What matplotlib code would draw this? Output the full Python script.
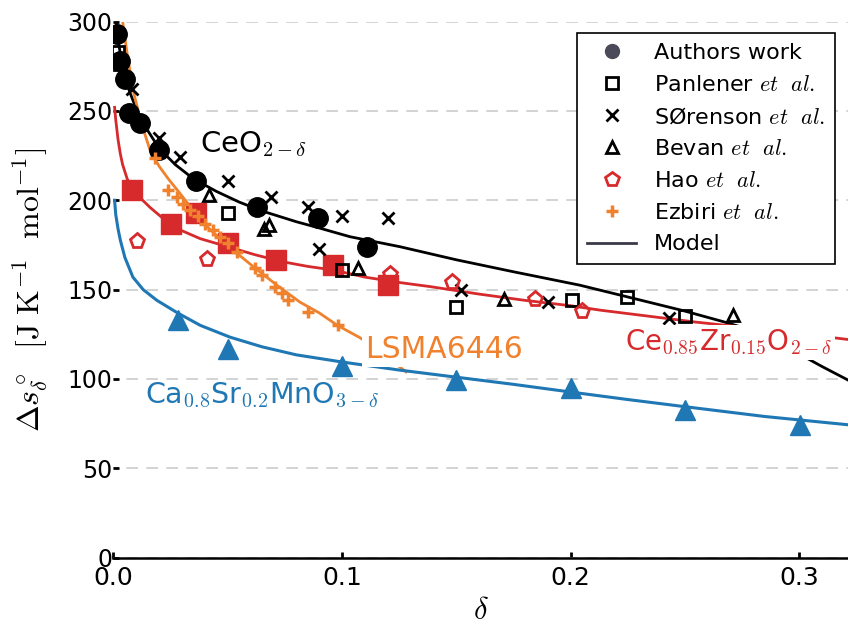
import numpy as np
import matplotlib.pyplot as plt
from matplotlib.lines import Line2D

plt.rcParams['mathtext.fontset'] = 'cm'
plt.rcParams['font.family'] = 'DejaVu Sans'

# Colours for the three doped oxides
RED = '#d62a2c'
BLUE = '#1f77b4'
ORANGE = '#f0822e'

# --- CeO2-delta: measured entropies ---
authors_d = [0.0015, 0.003, 0.005, 0.007, 0.0116, 0.020, 0.036, 0.063, 0.0895, 0.111]
authors_s = [293, 278, 268, 249, 243, 228, 211, 196, 190, 174]

panlener_d = [0.002, 0.003, 0.050, 0.100, 0.150, 0.2007, 0.2247, 0.250]
panlener_s = [283, 276, 193, 161, 140, 144, 146, 135]

sorenson_d = [0.008, 0.020, 0.029, 0.050, 0.069, 0.085, 0.090, 0.100, 0.120, 0.152, 0.190, 0.243]
sorenson_s = [262, 235, 224, 211, 202, 196, 173, 191, 190, 150, 143, 134]

bevan_d = [0.042, 0.066, 0.068, 0.107, 0.171, 0.271]
bevan_s = [203, 184, 186, 162, 145, 136]

# --- Ce0.85Zr0.15O2-delta ---
hao_d = [0.0103, 0.041, 0.121, 0.148, 0.1845, 0.205]
hao_s = [177, 167, 159, 154, 145, 138]

czo_d = [0.008, 0.025, 0.036, 0.050, 0.071, 0.096, 0.120]
czo_s = [206, 187, 193, 176, 166.5, 164, 152.5]

# --- LSMA6446 ---
ezbiri_d = [0.0182, 0.024, 0.0277, 0.0306, 0.0335, 0.0371, 0.040, 0.0437, 0.0466,
            0.0502, 0.054, 0.062, 0.0649, 0.0707, 0.0736, 0.0765, 0.0853, 0.0984]
ezbiri_s = [223.5, 206, 202, 198, 194.5, 191, 187, 183.5, 179.5,
            176, 171, 162, 158, 151.5, 148, 144, 137.5, 130]

# --- Ca0.8Sr0.2MnO3-delta ---
csm_d = [0.0284, 0.050, 0.100, 0.150, 0.200, 0.250, 0.3005]
csm_s = [133, 117, 107, 99.5, 95, 82.6, 74.3]

# --- Model curves ---
ceo2_model_d = [0.001, 0.0015, 0.002, 0.003, 0.004, 0.005, 0.007, 0.010, 0.014, 0.020,
                0.027, 0.035, 0.045, 0.055, 0.065, 0.080, 0.090, 0.1035, 0.1254, 0.150,
                0.175, 0.204, 0.2247, 0.250, 0.267, 0.280, 0.290, 0.300, 0.310, 0.322]
ceo2_model_s = [305, 296, 290, 282, 276, 270, 261, 251, 241, 229,
                220, 212, 205, 199, 194, 188, 184.5, 179.6, 174, 166.7,
                160, 152.5, 146, 138, 132, 127, 121, 114, 107, 99]

czo_model_d = [0.0005, 0.001, 0.002, 0.003, 0.004, 0.006, 0.008, 0.012, 0.016, 0.022,
               0.029, 0.038, 0.050, 0.062, 0.074, 0.085, 0.096, 0.110, 0.125, 0.1385,
               0.160, 0.180, 0.200, 0.213, 0.235, 0.255, 0.290, 0.322]
czo_model_s = [252, 245, 234, 226, 220, 212, 207, 201, 196, 189.5,
               183.5, 178.5, 174, 169.5, 165.6, 163, 161, 157, 154, 151.7,
               147.5, 144, 141, 138.5, 135, 131.8, 127, 122]

lsma_model_d = [0.004, 0.006, 0.0085, 0.012, 0.016, 0.020, 0.024, 0.029, 0.035, 0.042,
                0.052, 0.062, 0.072, 0.0816, 0.090, 0.098, 0.108, 0.118, 0.128]
lsma_model_s = [300, 282, 262, 244, 228, 219, 212, 204, 194, 184,
                172.5, 162, 152, 143, 137, 130, 123, 114, 104]

csm_model_d = [0.0005, 0.001, 0.002, 0.003, 0.005, 0.0085, 0.013, 0.019, 0.028, 0.038,
               0.051, 0.065, 0.080, 0.100, 0.125, 0.150, 0.175, 0.200, 0.225, 0.250,
               0.285, 0.322]
csm_model_s = [200, 192, 184, 177.7, 168, 157, 150, 144, 137, 130,
               123.4, 118, 113.5, 109.5, 105, 101, 97, 92.7, 88.5, 84.5,
               79, 74.3]

fig = plt.figure(figsize=(8.48, 6.29), dpi=100)
ax = fig.add_axes([0.1338, 0.1134, 0.8662, 0.8523])

# model lines
ax.plot(ceo2_model_d, ceo2_model_s, color='black', lw=2, zorder=2)
ax.plot(czo_model_d, czo_model_s, color=RED, lw=2, zorder=2)
ax.plot(lsma_model_d, lsma_model_s, color=ORANGE, lw=2, zorder=2)
ax.plot(csm_model_d, csm_model_s, color=BLUE, lw=2.2, zorder=2)

# measured points
ax.plot(authors_d, authors_s, 'o', color='black', ms=14, zorder=4)
ax.plot(czo_d, czo_s, 's', color=RED, ms=14, zorder=4)
ax.plot(csm_d, csm_s, '^', color=BLUE, ms=14, zorder=4)
ax.plot(panlener_d, panlener_s, 's', mfc='none', mec='black', ms=9, mew=2, zorder=5)
ax.plot(sorenson_d, sorenson_s, 'x', color='black', ms=9, mew=2, zorder=5)
ax.plot(bevan_d, bevan_s, '^', mfc='none', mec='black', ms=9, mew=2, zorder=5)
ax.plot(hao_d, hao_s, 'p', mfc='none', mec=RED, ms=11, mew=2, zorder=5)
ax.plot(ezbiri_d, ezbiri_s, '+', color=ORANGE, ms=8, mew=2.5, zorder=5)

# material labels
ax.text(0.0379, 227, r'CeO$_{2-\delta}$', fontsize=21, color='black', va='baseline', zorder=6)
ax.text(0.110, 111.8, 'LSMA6446', fontsize=21.5, color=ORANGE, va='baseline', zorder=6,
        bbox=dict(facecolor='white', edgecolor='none', pad=2))
ax.text(0.0138, 86.6, r'Ca$_{0.8}$Sr$_{0.2}$MnO$_{3-\delta}$', fontsize=20.5, color=BLUE,
        va='baseline', zorder=6)
ax.text(0.2238, 116.2, r'Ce$_{0.85}$Zr$_{0.15}$O$_{2-\delta}$', fontsize=20, color=RED,
        va='baseline', zorder=6, bbox=dict(facecolor='white', edgecolor='none', pad=2))

ax.set_xlim(0, 0.3214)
ax.set_ylim(0, 300)
ax.set_xticks([0.0, 0.1, 0.2, 0.3])
ax.set_yticks([0, 50, 100, 150, 200, 250, 300])
ax.yaxis.grid(True, color='#cccccc', lw=1.2, linestyle=(4, (7, 5)))
ax.set_axisbelow(True)
for side in ['top', 'right', 'left']:
    ax.spines[side].set_visible(False)
ax.spines['bottom'].set_linewidth(1.8)
ax.tick_params(direction='in', length=4, width=2, labelsize=17, colors='black')
ax.tick_params(axis='x', pad=6, labelsize=18)
ax.tick_params(axis='y', pad=1)

ax.set_xlabel(r'$\delta$', fontsize=22, labelpad=4)
ax.set_ylabel(r'$\Delta s^\circ_\delta\ \ [\mathrm{J\ K^{-1}\ \ mol^{-1}}]$', fontsize=23,
              labelpad=12)

handles = [
    Line2D([], [], ls='none', marker='o', color='#4a4a5a', ms=10),
    Line2D([], [], ls='none', marker='s', mfc='none', mec='black', ms=9, mew=2),
    Line2D([], [], ls='none', marker='x', color='black', ms=9, mew=2),
    Line2D([], [], ls='none', marker='^', mfc='none', mec='black', ms=9, mew=2),
    Line2D([], [], ls='none', marker='p', mfc='none', mec=RED, ms=10, mew=2),
    Line2D([], [], ls='none', marker='+', color=ORANGE, ms=8, mew=2.5),
    Line2D([], [], color='#3a3a48', lw=2),
]
labels = ['Authors work', r'Panlener $et\ \ al.$', r'SØrenson $et\ \ al.$',
          r'Bevan $et\ \ al.$', r'Hao $et\ \ al.$', r'Ezbiri $et\ \ al.$', 'Model']
leg = ax.legend(handles, labels, loc='upper right', bbox_to_anchor=(0.982, 0.979),
                borderaxespad=0, fontsize=16, labelspacing=0.53, handlelength=2.2,
                handletextpad=0.8, borderpad=0.45, fancybox=False, framealpha=1,
                edgecolor='black')
leg.get_frame().set_linewidth(1.2)
leg.set_zorder(10)

fig.savefig('out.png', dpi=100)
